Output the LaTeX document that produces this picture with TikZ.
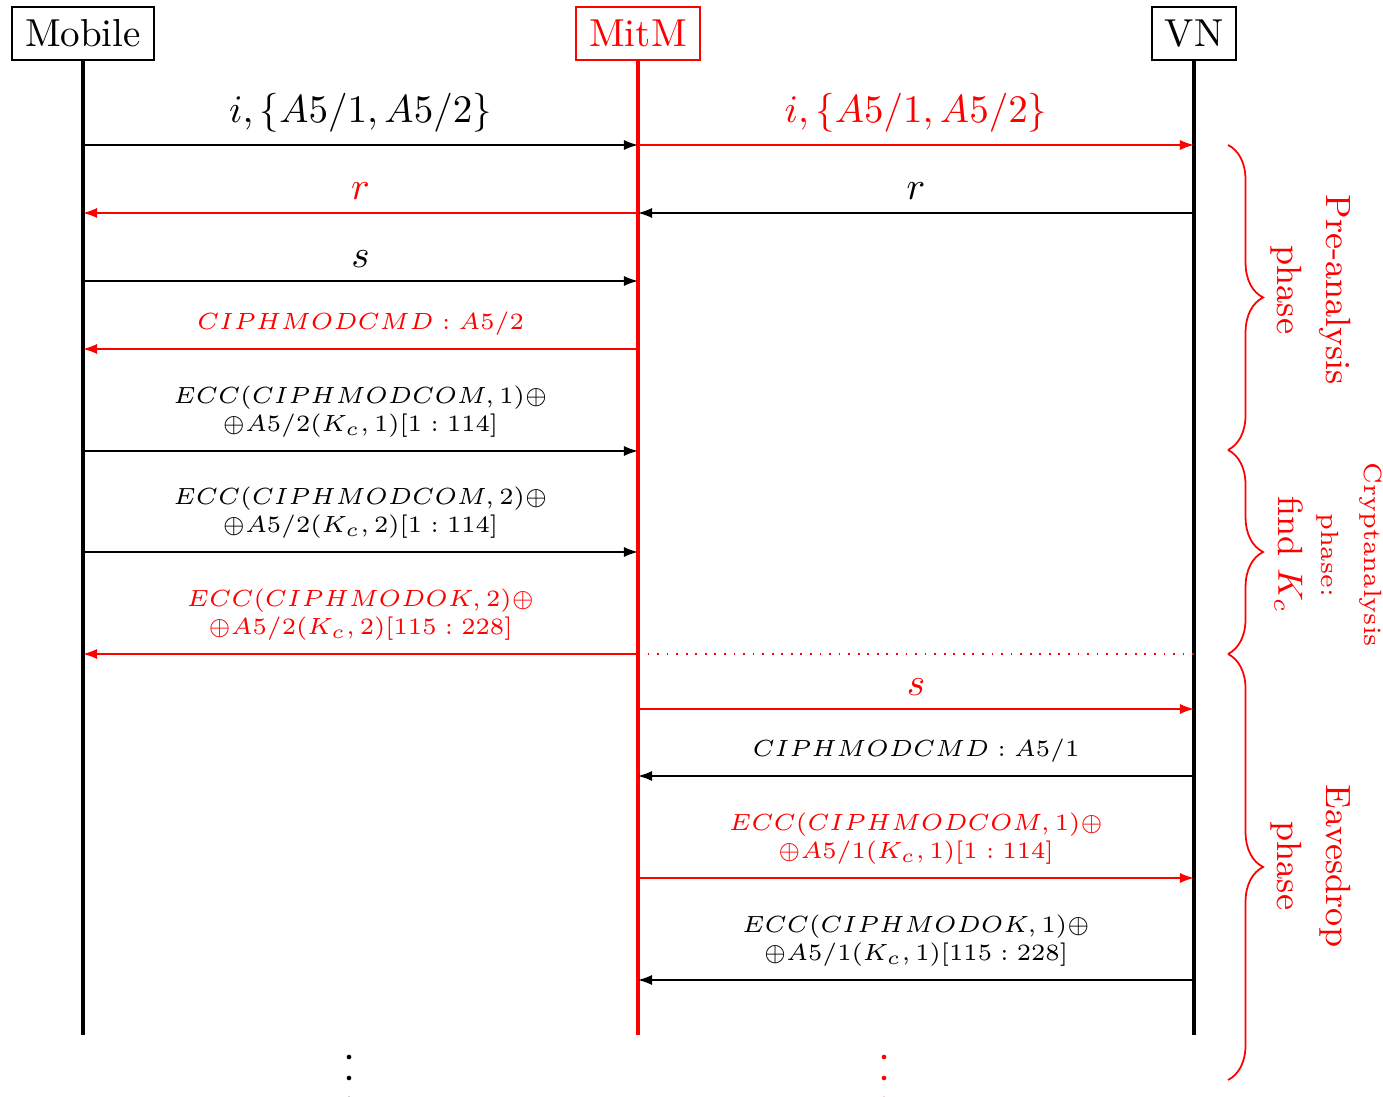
\documentclass[tikz,border=0pt]{standalone}
\usetikzlibrary{arrows.meta,decorations.pathreplacing}
\newcommand\lblfont{\fontsize{6.4pt}{7.2pt}\selectfont}
\begin{document}
\begin{tikzpicture}[x=0.2564pt,y=-0.2564pt,
  actor/.style={draw, inner sep=3.33pt, line width=0.5pt},
  life/.style={line width=0.8pt},
  msg/.style={line width=0.45pt, -{Latex[length=3.6pt,width=2.6pt]}},
  lbl/.style={above=-0.2pt},
  sm/.style={above=0pt, font=\lblfont, align=center},
  brc/.style={red, line width=0.45pt, decorate, decoration={brace, amplitude=9pt}},
  phasetxt/.style={red, rotate=-90, font=\small, align=center}]
\useasboundingbox (0,0) rectangle (1383,1097);
% actors
\node[actor] (mob) at (83,33.5) {Mobile};
\node[actor, red] (mitm) at (638,33.5) {MitM};
\node[actor] (vn) at (1194,33.5) {VN};
\coordinate (mobE) at (83,1035);
\coordinate (mitmE) at (638,1035);
\coordinate (vnE) at (1194,1035);
\draw[life] (mob) -- (mobE);
\draw[life, red] (mitm) -- (mitmE);
\draw[life] (vn) -- (vnE);
% message levels
\foreach \n/\y in {1/145,2/213,3/281,4/349,5/451,6/552,7/654,8/709,9/776,10/878,11/980}{
  \coordinate (L\n) at (83,\y);
  \coordinate (M\n) at (638,\y);
  \coordinate (R\n) at (1194,\y);
}
% messages
\draw[msg] (L1) -- node[lbl] {$i,\{A5/1,A5/2\}$} (M1);
\draw[msg, red] (M1) -- node[lbl] {$i,\{A5/1,A5/2\}$} (R1);
\draw[msg] (R2) -- node[lbl] {$r$} (M2);
\draw[msg, red] (M2) -- node[lbl] {$r$} (L2);
\draw[msg] (L3) -- node[lbl] {$s$} (M3);
\draw[msg, red] (M4) -- node[sm] {$CIPHMODCMD:A5/2$} (L4);
\draw[msg] (L5) -- node[sm] {$ECC(CIPHMODCOM,1)\oplus$\\$\oplus A5/2(K_c,1)[1:114]$} (M5);
\draw[msg] (L6) -- node[sm] {$ECC(CIPHMODCOM,2)\oplus$\\$\oplus A5/2(K_c,2)[1:114]$} (M6);
\draw[msg, red] (M7) -- node[sm] {$ECC(CIPHMODOK,2)\oplus$\\$\oplus A5/2(K_c,2)[115:228]$} (L7);
\draw[red, dotted, line width=0.45pt] (M7) -- (R7);
\draw[msg, red] (M8) -- node[lbl] {$s$} (R8);
\draw[msg] (R9) -- node[sm] {$CIPHMODCMD:A5/1$} (M9);
\draw[msg, red] (M10) -- node[sm] {$ECC(CIPHMODCOM,1)\oplus$\\$\oplus A5/1(K_c,1)[1:114]$} (R10);
\draw[msg] (R11) -- node[sm] {$ECC(CIPHMODOK,1)\oplus$\\$\oplus A5/1(K_c,1)[115:228]$} (M11);
% braces
\coordinate (b0) at (1228,145);
\coordinate (b1) at (1228,450);
\coordinate (b2) at (1228,654);
\coordinate (b3) at (1228,1080);
\draw[brc] (b0) -- (b1);
\draw[brc] (b1) -- (b2);
\draw[brc] (b2) -- (b3);
\node[phasetxt] (pre) at (1311,290) {Pre-analysis\\[1.5pt]phase};
\node[phasetxt] (cry) at (1328,555) {{\lblfont Cryptanalysis}\\{\lblfont phase:}\\find $K_c$};
\node[phasetxt] (eav) at (1311,866) {Eavesdrop\\[1.5pt]phase};
% continuation dots
\foreach \yy in {1057,1078,1099}{
  \fill (349,\yy) circle[radius=0.6pt];
  \fill[red] (884,\yy) circle[radius=0.6pt];
}
\end{tikzpicture}
\end{document}
